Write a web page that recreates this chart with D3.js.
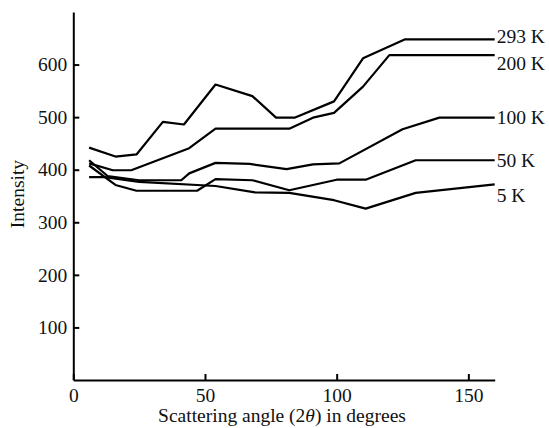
<!DOCTYPE html>
<html><head><meta charset="utf-8">
<script src="https://cdn.jsdelivr.net/npm/d3@7"></script>
<style>body{margin:0;background:#fff}</style>
</head><body>
<svg id="c" width="549" height="428"></svg>
<script>
const seriesNames = ["293 K","200 K","100 K","50 K","5 K"];
const angles293 = [6,16,24,34,42,54,68,77,84,99,110,126,160];
const values293 = [442,425,429,491,486,562,540,499,499,530,612,648,648];
const angles200 = [6,15,22,44,54,82,91,99,110,120,160];
const values200 = [412,399,399,441,478,478,499,508,558,618,618];
const angles100 = [6,13,25,41,44,54,67,81,91,101,125,139,160];
const values100 = [418,388,380,380,393,413,411,401,410,412,477,499,499];
const angles50 = [6,16,24,47,54,68,82,100,111,130,160];
const values50 = [408,371,360,360,382,380,361,381,381,418,418];
const angles5 = [6,12,25,54,69,82,99,111,130,160];
const values5 = [386,386,377,369,357,356,342,326,356,372];
const xTicks = [0,50,100,150];
const yTicks = [100,200,300,400,500,600];

const series = [
  {name: seriesNames[0], x: angles293, y: values293, dy: 4},
  {name: seriesNames[1], x: angles200, y: values200, dy: 15},
  {name: seriesNames[2], x: angles100, y: values100, dy: 6},
  {name: seriesNames[3], x: angles50, y: values50, dy: 7},
  {name: seriesNames[4], x: angles5, y: values5, dy: 18}
];

const svg = d3.select("#c");
const font = "'Liberation Serif','Times New Roman',serif";
const fs = 19.5;
const x = d3.scaleLinear().domain([0,160]).range([73.3,494.7]);
const y = d3.scaleLinear().domain([0,700]).range([380,12]);

const xa = svg.append("g").attr("transform","translate(0,380)")
  .call(d3.axisBottom(x).tickValues(xTicks).tickSize(-6).tickPadding(8).tickSizeOuter(0));
const ya = svg.append("g").attr("transform","translate(73.3,0)")
  .call(d3.axisLeft(y).tickValues(yTicks).tickSize(-6).tickPadding(6).tickSizeOuter(0));
[xa,ya].forEach(a=>{
  a.select(".domain").attr("stroke","#000").attr("stroke-width",2);
  a.selectAll(".tick line").attr("stroke","#000").attr("stroke-width",2);
  a.selectAll(".tick text").attr("font-family",font).attr("font-size",fs).attr("fill","#111");
});
xa.selectAll(".tick text").attr("dy","0.71em");

const line = d3.line().x(d=>x(d[0])).y(d=>y(d[1]));
series.forEach(s=>{
  const pts = s.x.map((a,i)=>[a,s.y[i]]);
  svg.append("path").attr("d",line(pts)).attr("fill","none")
    .attr("stroke","#000").attr("stroke-width",2.2).attr("stroke-linejoin","round");
  svg.append("text").attr("x",x(s.x[s.x.length-1])+2).attr("y",y(s.y[s.y.length-1])+s.dy)
    .attr("font-family",font).attr("font-size",fs).attr("fill","#111").text(s.name);
});

svg.append("text").attr("transform","translate(24,194) rotate(-90)")
  .attr("text-anchor","middle").attr("font-family",font).attr("font-size",fs).attr("fill","#111")
  .text("Intensity");

const t = svg.append("text").attr("x",282).attr("y",422).attr("text-anchor","middle")
  .attr("font-family",font).attr("font-size",fs).attr("fill","#111");
t.append("tspan").text("Scattering angle (2");
t.append("tspan").attr("font-style","italic").text("θ");
t.append("tspan").text(") in degrees");
</script>
</body></html>
